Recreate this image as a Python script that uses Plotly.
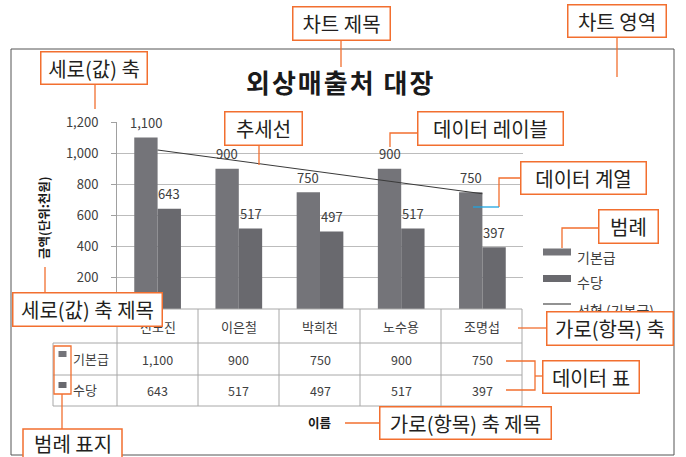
import numpy as np
import plotly.graph_objects as go

# ---- data ----
names = ["신노진", "이은철", "박희천", "노수용", "조명섭"]
base_pay = [1100, 900, 750, 900, 750]      # 기본급
allowance = [643, 517, 497, 517, 397]      # 수당
series_names = ["기본급", "수당"]
trend_name = "선형 (기본급)"
y_ticks = [0, 200, 400, 600, 800, 1000, 1200]
title_text = "외상매출처 대장"
y_title = "금액(단위:천원)"
x_title = "이름"

W, H = 686, 457
FONT = "Noto Sans CJK KR"
C1, C2 = "#747479", "#69696e"
ORANGE = "#f26f2f"
GRID = "#bcbcbc"
TXT = "#404040"


def X(px):
    return px / W


def Y(py):
    return 1 - py / H


# trendline (linear fit of 기본급)
idx = np.arange(1, len(base_pay) + 1)
slope, intercept = np.polyfit(idx, base_pay, 1)
trend = [slope * i + intercept for i in idx]

fig = go.Figure()
fig.add_trace(go.Bar(x=names, y=base_pay, name=series_names[0], marker_color=C1,
                     marker_line_width=0, hoverinfo="skip"))
fig.add_trace(go.Bar(x=names, y=allowance, name=series_names[1], marker_color=C2,
                     marker_line_width=0, hoverinfo="skip"))
fig.add_trace(go.Scatter(x=[names[0], names[-1]], y=[trend[0], trend[-1]], mode="lines",
                         name=trend_name, line=dict(color="#3a3a3a", width=1.1),
                         hoverinfo="skip"))

shapes = []
ann = []


def text(x, y, t, size, color=TXT, xref="paper", xanchor="center", **kw):
    ann.append(dict(x=x, y=y, xref=xref, yref="paper", text=t, showarrow=False,
                    xanchor=xanchor, yanchor="middle",
                    font=dict(family=FONT, size=size, color=color), **kw))


# chart area border
shapes.append(dict(type="rect", xref="paper", yref="paper", x0=X(11), x1=X(674), y0=Y(455), y1=Y(49),
                   line=dict(color="#555555", width=1), layer="below"))

# data labels
for vals, shift in ((base_pay, -11.7), (allowance, 11.7)):
    for n, v in zip(names, vals):
        ann.append(dict(x=n, y=v, xref="x", yref="y", text=f"{v:,}", showarrow=False,
                        xanchor="center", yanchor="middle",
                        xshift=shift, yshift=15, font=dict(family=FONT, size=13, color=TXT)))

# titles
text(X(340), Y(82), f'<span style="letter-spacing:2px"><b>{title_text}</b></span>', 26, color="#1a1a1a")
text(X(43), Y(218), f"<b>{y_title}</b>", 12.5, color="#1a1a1a", textangle=-90)
text(X(319), Y(422), f"<b>{x_title}</b>", 12.5, color="#1a1a1a")

# ---- data table ----
tl = dict(color="#a8a8a8", width=1)
col_edges = [117, 198, 279, 360, 441, 522]
for cx in col_edges:
    shapes.append(dict(type="line", xref="paper", yref="paper", x0=X(cx), x1=X(cx), y0=Y(309), y1=Y(406), line=tl))
shapes.append(dict(type="line", xref="paper", yref="paper", x0=X(117), x1=X(522), y0=Y(309), y1=Y(309), line=tl))
for ry in (343, 375, 406):
    shapes.append(dict(type="line", xref="paper", yref="paper", x0=X(53), x1=X(522), y0=Y(ry), y1=Y(ry), line=tl))
shapes.append(dict(type="line", xref="paper", yref="paper", x0=X(53), x1=X(53), y0=Y(343), y1=Y(406), line=tl))

for n in names:
    text(n, Y(326), n, 13, xref="x")
for vals, ry in ((base_pay, 359), (allowance, 390)):
    for n, v in zip(names, vals):
        text(n, Y(ry), f"{v:,}", 12.5, xref="x")
for sname, col, ry in ((series_names[0], C1, 358), (series_names[1], C2, 389)):
    shapes.append(dict(type="rect", xref="paper", yref="paper", x0=X(58.5), x1=X(66.5), y0=Y(ry - 1), y1=Y(ry - 7),
                       fillcolor=col, line=dict(width=0)))
    text(X(71), Y(ry), sname, 13, xanchor="left")

# ---- legend (right) ----
for sname, col, ky, ty in ((series_names[0], C1, 252, 257), (series_names[1], C2, 278.5, 282)):
    shapes.append(dict(type="rect", xref="paper", yref="paper", x0=X(543), x1=X(571), y0=Y(ky + 3.5), y1=Y(ky - 3.5),
                       fillcolor=col, line=dict(width=0)))
    text(X(575), Y(ty), sname, 14, xanchor="left")
shapes.append(dict(type="line", xref="paper", yref="paper", x0=X(543), x1=X(571), y0=Y(304), y1=Y(304),
                   line=dict(color="#3a3a3a", width=1.1)))
text(X(575), Y(310), trend_name, 14, xanchor="left")

# ---- callout leader lines ----
ol = dict(color=ORANGE, width=1.3)


def path(pts, color=ORANGE):
    d = "M " + " L ".join(f"{X(px)},{Y(py)}" for px, py in pts)
    shapes.append(dict(type="path", xref="paper", yref="paper", path=d,
                       line=dict(color=color, width=1.3), layer="above"))


path([(341, 40), (341, 67)])
path([(617, 38), (617, 77)])
path([(95, 85), (95, 109)])
path([(259, 146), (259, 165)])
path([(418, 133), (390, 133), (390, 147)])
path([(520, 178), (499, 178), (499, 207)])
path([(473, 207), (499, 207)], color="#1ea5e0")
path([(598, 228), (562, 228), (562, 248)])
path([(45, 292), (45, 267)])
path([(518, 328), (546, 328)])
path([(506, 361), (535, 361), (535, 390), (506, 390)])
path([(535, 376), (542, 376)])
path([(345, 423), (379, 423)])
path([(62, 394), (62, 429)])
shapes.append(dict(type="rect", xref="paper", yref="paper", x0=X(54), x1=X(71), y0=Y(394), y1=Y(346),
                   line=ol, layer="above"))

# ---- callout boxes ----
boxes = [
    ("차트 제목", 292, 6, 390, 40),
    ("차트 영역", 567, 5, 666, 38),
    ("세로(값) 축", 40, 52, 147, 85),
    ("추세선", 224, 112, 302, 146),
    ("데이터 레이블", 418, 112, 564, 146),
    ("데이터 계열", 520, 161, 646, 194),
    ("범례", 598, 209, 658, 243),
    ("세로(값) 축 제목", 12, 292, 162, 326),
    ("가로(항목) 축", 546, 311, 673, 345),
    ("데이터 표", 542, 360, 639, 393),
    ("가로(항목) 축 제목", 379, 406, 551, 439),
]
for t, x0, y0, x1, y1 in boxes:
    text(X((x0 + x1) / 2), Y((y0 + y1) / 2), t, 20, color="#231f20",
         width=x1 - x0 - 2, height=y1 - y0 - 2, borderpad=0, borderwidth=1.5,
         bordercolor=ORANGE, bgcolor="white")
# bottom box runs off the bottom edge: drawn as a shape + text
shapes.append(dict(type="rect", xref="paper", yref="paper", x0=X(23), x1=X(122), y0=Y(470), y1=Y(429),
                   fillcolor="white", line=dict(color=ORANGE, width=1.5), layer="above"))
text(X(72.5), Y(443), "범례 표지", 20, color="#231f20")

fig.update_layout(
    width=W, height=H, margin=dict(l=0, r=0, t=0, b=0, pad=0, autoexpand=False),
    paper_bgcolor="white", plot_bgcolor="white",
    barmode="group", bargap=0.425, bargroupgap=0,
    showlegend=False,
    xaxis=dict(domain=[X(117), X(523)], type="category", showticklabels=False, showgrid=False,
               zeroline=False, showline=False, ticks="", automargin=False),
    yaxis=dict(domain=[Y(309), Y(122)], range=[0, 1200], tickvals=y_ticks,
               ticktext=[f"{v:,}" for v in y_ticks], showgrid=True, gridcolor=GRID, gridwidth=1,
               zeroline=False, showline=True, linecolor="#a0a0a0", linewidth=1,
               ticks="outside", ticklen=5, tickcolor="#a0a0a0", ticklabelstandoff=10,
               automargin=False, tickfont=dict(family=FONT, size=13, color=TXT)),
    shapes=shapes, annotations=ann,
)

fig.write_html("out.html", config={"displayModeBar": False},
               post_script="document.body.style.margin='0';document.body.style.overflow='hidden';")
